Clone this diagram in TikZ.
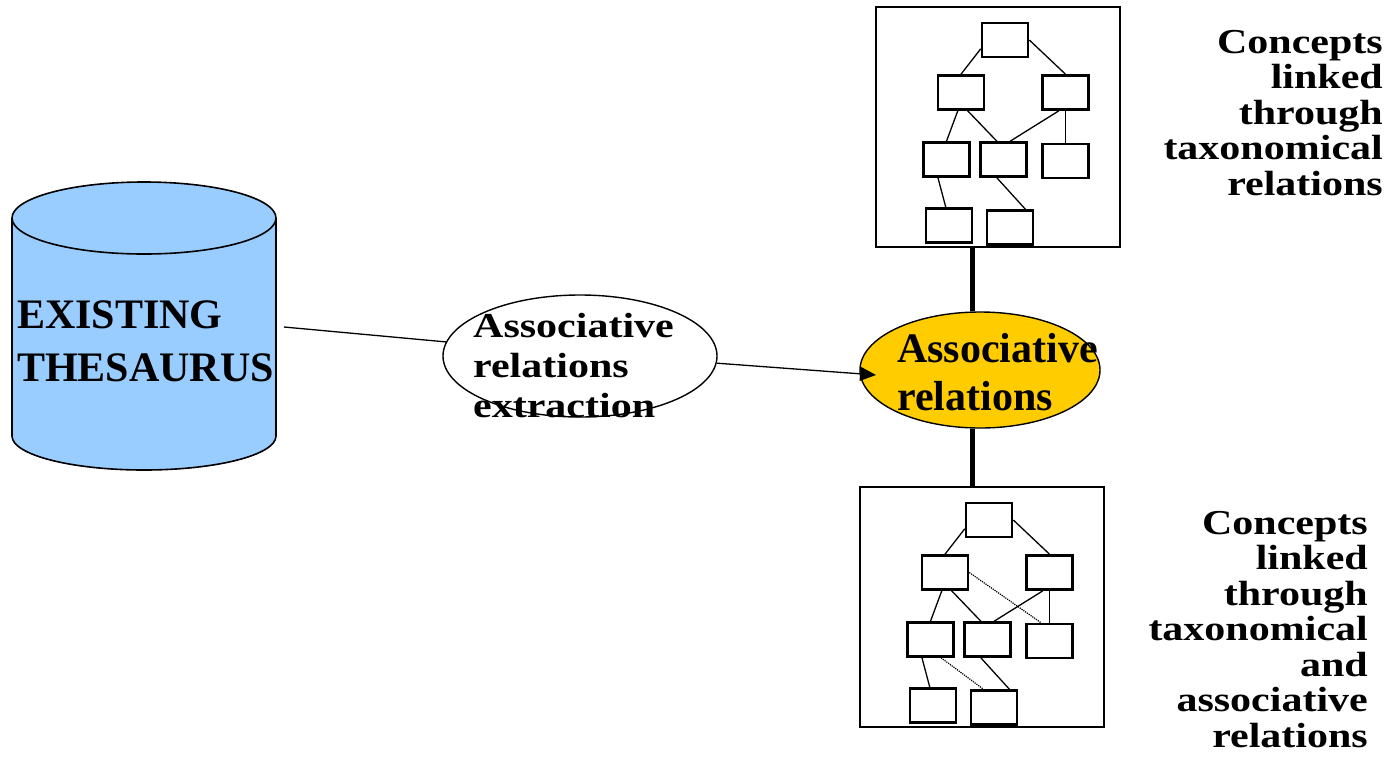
\documentclass[tikz,border=0pt]{standalone}
\usepackage{fontspec}
\setmainfont{Liberation Serif}
\newfontfamily\garafont[FakeStretch=1.2]{Liberation Serif}
\usetikzlibrary{shapes.geometric,arrows.meta}
\definecolor{thesblue}{HTML}{99CCFF}
\definecolor{assocyellow}{HTML}{FFCC00}

\begin{document}
\begin{tikzpicture}[x=1pt,y=-1pt,
  concept/.style={draw,line width=2.6pt,minimum width=46pt,minimum height=34pt,inner sep=0pt},
  panel/.style={draw,line width=1.6pt,minimum width=244pt,minimum height=240pt,inner sep=0pt},
  taxo/.style={line width=1.3pt},
  assocline/.style={densely dotted,line width=1.2pt},
  link/.style={line width=5pt},
  relation/.style={draw,ellipse,line width=1.4pt,inner sep=0pt},
  bigtxt/.style={font=\bfseries\fontsize{42}{48}\selectfont,align=left,inner sep=0pt},
  gartxt/.style={font=\garafont\bfseries\fontsize{35}{35.5}\selectfont,inner sep=0pt}]
\useasboundingbox (0,0) rectangle (1392,761);

%thesaurus
\fill[thesblue] (12,218) -- (12,436) arc[start angle=180,end angle=0,x radius=132,y radius=34]
  -- (276,218) arc[start angle=0,end angle=-180,x radius=132,y radius=36] -- cycle;
\draw[line width=1.6pt] (12,218) -- (12,436) arc[start angle=180,end angle=0,x radius=132,y radius=34] -- (276,218);
\draw[line width=1.6pt] (144,218) ellipse[x radius=132,y radius=36];
\node[bigtxt,font=\bfseries\fontsize{42}{53}\selectfont,anchor=base west] (thes) at (17,381) {EXISTING\\THESAURUS};
\coordinate (thes-out) at (284,327);

%extraction + relations
\node[relation,fill=white,minimum width=274pt,minimum height=122pt] (extr) at (580,356) {};
\node[gartxt,font=\garafont\bfseries\fontsize{35}{40}\selectfont,align=left,anchor=base west] (extr-txt) at (473,417) {Associative\\relations\\extraction};
\node[relation,fill=assocyellow,minimum width=240pt,minimum height=116pt] (assoc) at (980,370) {};
\node[bigtxt,anchor=base west] (assoc-txt) at (897,410) {Associative\\relations};
\coordinate (arr-end) at (876,375);

\draw[line width=1.3pt] (thes-out) -- (extr.174);
\draw[line width=1.3pt,-{Triangle[length=16pt,width=14pt]}] (extr.-3) -- (arr-end);

%taxonomies
\foreach \p/\dx/\dy in {t/0/0,b/-16/480}{
  \begin{scope}[shift={(\dx,\dy)}]
    \node[panel] (\p-frame) at (998,127) {};
    \foreach \n/\x/\y in {r/1005/40,a/961/92.5,b/1065.5/92.5,c/946.5/159.5,d/1003.5/159.5,e/1065.5/161,f/949/225.5,g/1010/227.5}
      \node[concept] (\p-\n) at (\x,\y) {};
    \draw[taxo] (\p-r.200) -- (\p-a.north);
    \draw[taxo] (\p-r.east) -- (\p-b.north);
    \draw[taxo] (\p-a.-100) -- (\p-c.north);
    \draw[taxo] (\p-a.-70) -- (\p-d.110);
    \draw[taxo] (\p-b.-110) -- (\p-d.70);
    \draw[taxo] (\p-b.south) -- (\p-e.north);
    \draw[taxo] (\p-c.-115) -- (\p-f.100);
    \draw[taxo] (\p-d.-110) -- (\p-g.50);
  \end{scope}
}
\draw[assocline] (b-a.east) -- (b-e.115);
\draw[assocline] (b-c.-60) -- (b-g.120);

\draw[link] (assoc.97) -- (assoc.97 |- t-frame.south);
\draw[link] (assoc.-97) -- (assoc.-97 |- b-frame.north);

\node[gartxt,align=right,anchor=base east] (t-note) at (1383,195) {Concepts\\linked\\through\\taxonomical\\relations};
\node[gartxt,align=right,anchor=base east] (b-note) at (1368,747) {Concepts\\linked\\through\\taxonomical\\and\\associative\\relations};
\end{tikzpicture}
\end{document}
